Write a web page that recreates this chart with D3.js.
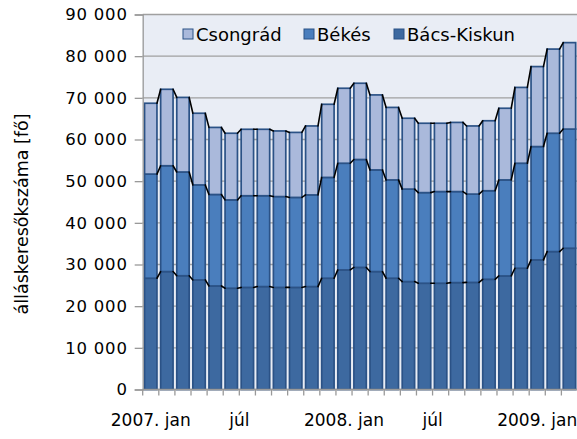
<!DOCTYPE html>
<html>
<head>
<meta charset="utf-8">
<script src="https://cdn.jsdelivr.net/npm/d3@7"></script>
<style>
  body { margin: 0; background: #fff; }
  svg { display: block; font-family: "DejaVu Sans", sans-serif; }
</style>
</head>
<body>
<svg id="chart" width="577" height="439"></svg>
<script>
const months = [
  "2007-01", "2007-02", "2007-03", "2007-04", "2007-05", "2007-06",
  "2007-07", "2007-08", "2007-09", "2007-10", "2007-11", "2007-12",
  "2008-01", "2008-02", "2008-03", "2008-04", "2008-05", "2008-06",
  "2008-07", "2008-08", "2008-09", "2008-10", "2008-11", "2008-12",
  "2009-01", "2009-02", "2009-03"
];

const bacsKiskun = [26700, 28300, 27300, 26300, 24850, 24300, 24500, 24700, 24500,
  24500, 24700, 26700, 28700, 29300, 28300, 26700, 25900, 25500, 25500, 25650,
  25700, 26450, 27250, 29100, 31100, 33100, 33900];
const bekes = [25000, 25400, 24900, 22800, 21950, 21200, 22000, 21800, 21800,
  21600, 22000, 24200, 25600, 25900, 24400, 23600, 22200, 21750, 22000, 21850,
  21200, 21250, 23050, 25200, 27200, 28400, 28600];
const csongrad = [17000, 18350, 17900, 17200, 16100, 16000, 15950, 15950, 15750,
  15600, 16550, 17550, 18000, 18300, 18000, 17400, 17000, 16650, 16400, 16600,
  16350, 16800, 17200, 18200, 19200, 20200, 20750];

const seriesNames = ["Bács-Kiskun", "Békés", "Csongrád"];
const seriesColors = ["#3d69a0", "#4a7ebd", "#aab9db"];

const xTickLabels = [
  { month: "2007-01", label: "2007. jan", center: true },
  { month: "2007-07", label: "júl", center: false },
  { month: "2008-01", label: "2008. jan", center: true },
  { month: "2008-07", label: "júl", center: false },
  { month: "2009-01", label: "2009. jan", center: true }
];
const yTicks = [0, 10000, 20000, 30000, 40000, 50000, 60000, 70000, 80000, 90000];

const svg = d3.select("#chart");
const plotLeft = 142.7, plotRight = 577.5, plotTop = 14.5, plotBottom = 389.5;

const x = d3.scaleBand().domain(months).range([plotLeft, plotRight]).paddingInner(0.23).paddingOuter(0.115);
const xCat = d3.scaleBand().domain(months).range([plotLeft, plotRight]);
const y = d3.scaleLinear().domain([0, 90000]).range([plotBottom, plotTop]);

const rows = months.map((m, i) => ({
  month: m,
  "Bács-Kiskun": bacsKiskun[i],
  "Békés": bekes[i],
  "Csongrád": csongrad[i]
}));
const stacked = d3.stack().keys(seriesNames)(rows);

// plot background
svg.append("rect")
  .attr("x", plotLeft).attr("y", plotTop)
  .attr("width", plotRight - plotLeft).attr("height", plotBottom - plotTop)
  .attr("fill", "#e9edf5");

// gridlines
svg.append("g")
  .selectAll("line")
  .data(yTicks)
  .join("line")
  .attr("x1", plotLeft).attr("x2", plotRight)
  .attr("y1", d => y(d)).attr("y2", d => y(d))
  .attr("stroke", "#a0a0a0")
  .attr("stroke-width", 1.3);

// bars
const layers = svg.append("g")
  .selectAll("g")
  .data(stacked)
  .join("g")
  .attr("fill", (d, i) => seriesColors[i]);

layers.selectAll("rect")
  .data(d => d)
  .join("rect")
  .attr("x", d => x(d.data.month))
  .attr("y", d => y(d[1]))
  .attr("width", x.bandwidth())
  .attr("height", d => y(d[0]) - y(d[1]))
  .attr("stroke", "#2b5286")
  .attr("stroke-width", 1.7);

// series lines between bar tops
const seriesLines = svg.append("g")
  .attr("stroke", "#000")
  .attr("stroke-width", 1.6)
  .attr("stroke-linecap", "round");
stacked.forEach(layer => {
  layer.forEach((d, i) => {
    if (i === layer.length - 1) return;
    const n = layer[i + 1];
    seriesLines.append("line")
      .attr("x1", x(d.data.month) + x.bandwidth())
      .attr("y1", y(d[1]))
      .attr("x2", x(n.data.month))
      .attr("y2", y(n[1]));
  });
});

// y axis
const yAxis = svg.append("g")
  .attr("transform", `translate(${plotLeft},0)`)
  .call(d3.axisLeft(y).tickValues(yTicks).tickSize(8).tickPadding(7)
    .tickFormat(d => d3.format(",")(d).replace(/,/g, "\u00a0")));
yAxis.select(".domain").attr("stroke", "#999").attr("stroke-width", 1.3);
yAxis.selectAll(".tick line").attr("stroke", "#999").attr("stroke-width", 1.3);
yAxis.selectAll(".tick text")
  .attr("font-family", "DejaVu Sans")
  .attr("font-size", 16.5)
  .attr("letter-spacing", 0.8)
  .attr("fill", "#000");

// x axis
svg.append("line")
  .attr("x1", plotLeft).attr("x2", plotRight)
  .attr("y1", plotBottom).attr("y2", plotBottom)
  .attr("stroke", "#999").attr("stroke-width", 1.3);
svg.append("g")
  .selectAll("line")
  .data(months)
  .join("line")
  .attr("x1", d => xCat(d)).attr("x2", d => xCat(d))
  .attr("y1", plotBottom).attr("y2", plotBottom + 6)
  .attr("stroke", "#999").attr("stroke-width", 1.3);

svg.append("g")
  .selectAll("text")
  .data(xTickLabels)
  .join("text")
  .attr("x", d => d.center ? xCat(d.month) + xCat.bandwidth() / 2 : xCat(d.month))
  .attr("y", 426)
  .attr("text-anchor", "middle")
  .attr("font-size", 17)
  .attr("fill", "#000")
  .text(d => d.label);

// y axis title
svg.append("text")
  .attr("transform", "translate(28,214) rotate(-90)")
  .attr("text-anchor", "middle")
  .attr("font-size", 17.5)
  .attr("fill", "#000")
  .text("álláskeresőkszáma [fő]");

// legend
const legendItems = [
  { name: "Csongrád", color: seriesColors[2], x: 183 },
  { name: "Békés", color: seriesColors[1], x: 304 },
  { name: "Bács-Kiskun", color: seriesColors[0], x: 394 }
];
const legend = svg.append("g")
  .selectAll("g")
  .data(legendItems)
  .join("g")
  .attr("transform", d => `translate(${d.x},34)`);
legend.append("rect")
  .attr("x", 0).attr("y", -5)
  .attr("width", 10).attr("height", 10)
  .attr("fill", d => d.color)
  .attr("stroke", "#2b5286")
  .attr("stroke-width", 1);
legend.append("text")
  .attr("x", 13)
  .attr("y", 6.5)
  .attr("font-size", 18)
  .attr("fill", "#000")
  .text(d => d.name);
</script>
</body>
</html>
